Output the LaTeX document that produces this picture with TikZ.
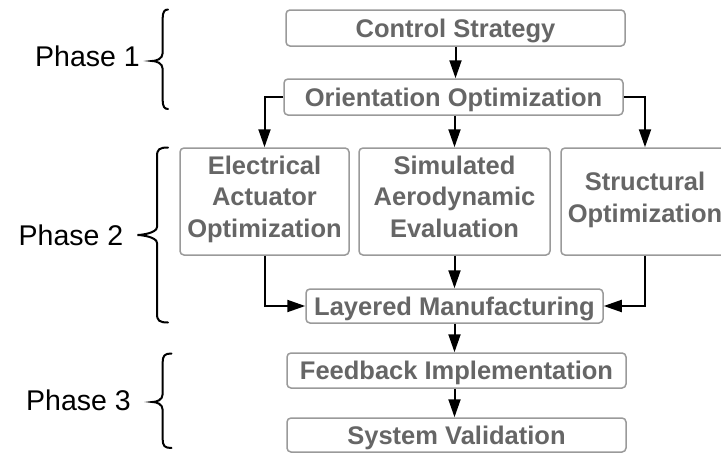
\documentclass[tikz,border=0pt]{standalone}
\usepackage{fontspec}
\setmainfont{Liberation Sans}
\usetikzlibrary{arrows.meta}
\definecolor{boxtext}{HTML}{666666}
\definecolor{boxline}{HTML}{9A9A9A}
% one-line text: baseline 9pt below the box centre
\newcommand\oneline[1]{\raisebox{-9pt}[0pt][0pt]{#1}}
% multi-line text: first baseline #1 above the box centre
\newcommand\mlines[2]{\raisebox{#1}[0pt][0pt]{\begin{tabular}[t]{@{}c@{}}#2\end{tabular}}}
% curly brace: ends x, vertical x, tip x, top y, tip y, bottom y
\newcommand\phbrace[6]{%
  \draw[brc] (#1,#4) .. controls (#2+2,#4) and (#2,#4+2) .. (#2,#4+9)
    -- (#2,#5-8) .. controls (#2,#5-2) and (#3+4,#5) .. (#3,#5)
    .. controls (#3+4,#5) and (#2,#5+2) .. (#2,#5+8)
    -- (#2,#6-9) .. controls (#2,#6-2) and (#2+2,#6) .. (#1,#6);}
\begin{document}
\begin{tikzpicture}[x=1pt,y=-1pt,
  box/.style={draw=boxline,line width=1.5pt,rounded corners=4pt,text=boxtext,
    font=\bfseries\fontsize{25.5}{31.5}\selectfont,inner sep=0pt,anchor=center},
  arr/.style={line width=2pt,-{Triangle[length=18pt,width=12pt]}},
  brc/.style={line width=2pt,line cap=round},
  phase/.style={font=\fontsize{28.5}{32}\selectfont,anchor=east,inner sep=0pt}]
\useasboundingbox (0,0) rectangle (721,455);
\fill[white] (0,0) rectangle (721,455);
% boxes
\node[box,minimum width=339pt,minimum height=36pt] (cs) at (455.5,28) {\oneline{Control Strategy}};
\node[box,minimum width=339pt,minimum height=36pt] (oo) at (453.5,97) {\oneline{Orientation Optimization}};
\node[box,minimum width=169pt,minimum height=107pt] (ea) at (264.5,201.5) {\mlines{27.5pt}{Electrical\\Actuator\\Optimization}};
\node[box,minimum width=191pt,minimum height=107pt] (sa) at (454.5,201.5) {\mlines{27.5pt}{Simulated\\Aerodynamic\\Evaluation}};
\node[box,minimum width=168pt,minimum height=107pt] (so) at (645,201.5) {\mlines{11pt}{Structural\\Optimization}};
\node[box,minimum width=297pt,minimum height=34pt] (lm) at (454.5,306) {\oneline{Layered Manufacturing}};
\node[box,minimum width=339pt,minimum height=35pt] (fb) at (456.5,370.5) {\oneline{Feedback Implementation}};
\node[box,minimum width=339pt,minimum height=34pt] (sv) at (456.5,435) {\oneline{System Validation}};
% connectors
\draw[arr] (cs.south) -- (cs.south |- oo.north);
\draw[arr] (oo.west) -| (ea.north);
\draw[arr] (sa.north |- oo.south) -- (sa.north);
\draw[arr] (oo.east) -| (so.north);
\draw[arr] (ea.south) |- (lm.west);
\draw[arr] (sa.south) -- (sa.south |- lm.north);
\draw[arr] (so.south) |- (lm.east);
\draw[arr] (lm.south) -- (lm.south |- fb.north);
\draw[arr] (lm.south |- fb.south) -- (lm.south |- sv.north);
% phase braces
\phbrace{168}{162.7}{152}{9.5}{61}{109}
\phbrace{168}{157}{137.5}{147.5}{235}{322.5}
\phbrace{171.5}{162.7}{152.5}{353.5}{402}{448}
\node[phase] (p1) at (140,56) {Phase 1};
\node[phase] (p2) at (123.5,235) {Phase 2};
\node[phase] (p3) at (131,400) {Phase 3};
\end{tikzpicture}
\end{document}
